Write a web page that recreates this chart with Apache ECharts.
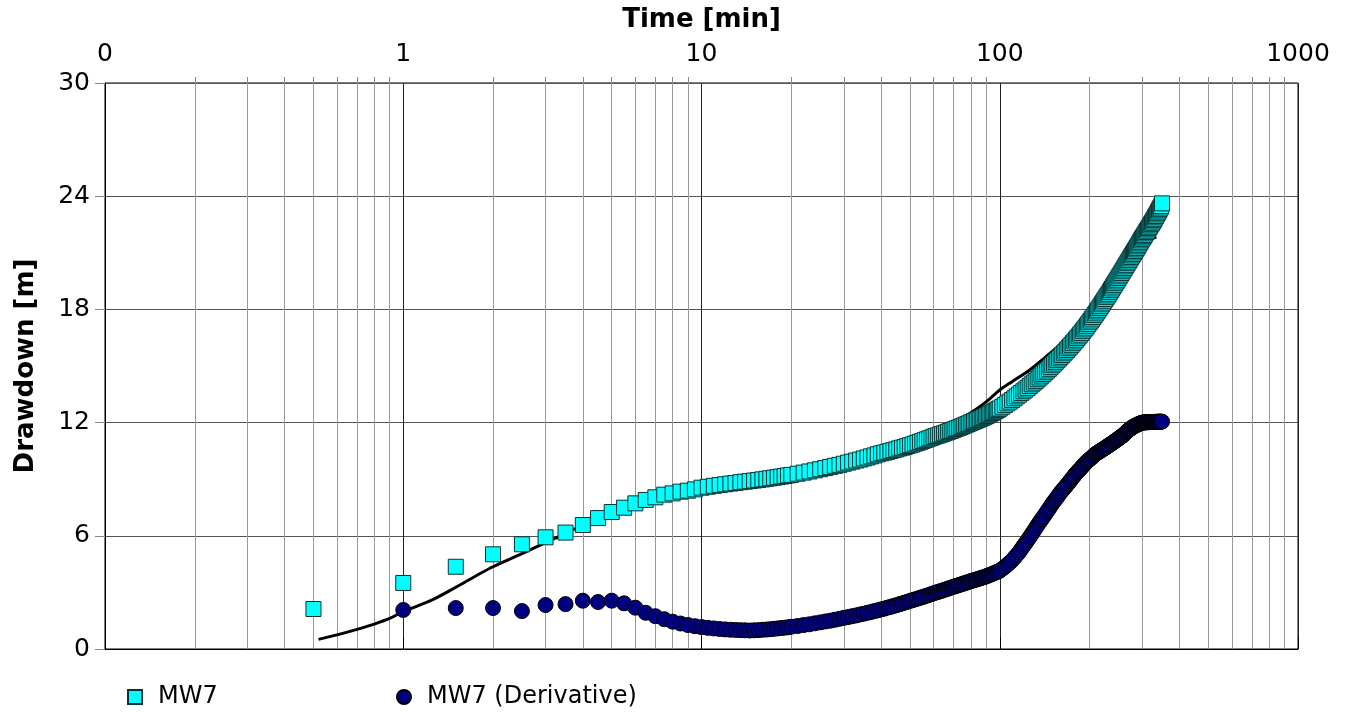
<!DOCTYPE html>
<html>
<head>
<meta charset="utf-8">
<script src="https://cdn.jsdelivr.net/npm/echarts@6/dist/echarts.min.js"></script>
<style>
html,body{margin:0;padding:0;background:#fff;}
#chart{width:1350px;height:713px;}
</style>
</head>
<body>
<div id="chart"></div>
<script>
// ---- data ----
const times = [
  0.5,1,1.5,2,2.5,3,3.5,4,4.5,5,5.5,6,6.5,7,7.5,8,8.5,9,9.5,10,
  10.5,11,11.5,12,12.5,13,13.5,14,14.5,15,15.5,16,16.5,17,17.5,18,18.5,19,19.5,20,
  21,22,23,24,25,26,27,28,29,30,31,32,33,34,35,36,37,38,39,40,
  41,42,43,44,45,46,47,48,49,50,51,52,53,54,55,56,57,58,59,60,
  61,62,63,64,65,66,67,68,69,70,71,72,73,74,75,76,77,78,79,80,
  81,82,83,84,85,86,87,88,89,90,91,92,93,94,95,96,97,98,99,100,
  102,104,106,108,110,112,114,116,118,120,122,124,126,128,130,132,134,136,138,140,
  142,144,146,148,150,152,154,156,158,160,162,164,166,168,170,172,174,176,178,180,
  182,184,186,188,190,192,194,196,198,200,202,204,206,208,210,212,214,216,218,220,
  222,224,226,228,230,232,234,236,238,240,242,244,246,248,250,252,254,256,258,260,
  262,264,266,268,270,272,274,276,278,280,282,284,286,288,290,292,294,296,298,300,
  302,304,306,308,310,312,314,316,318,320,322,324,326,328,330,332,334,336,338,340,
  342,344,346,348,350
];
const drawdown = [
  2.12,3.50,4.36,5.02,5.55,5.92,6.17,6.57,6.94,7.26,7.49,7.72,7.90,8.04,8.18,8.25,8.34,8.39,8.46,8.55,
  8.60,8.65,8.69,8.73,8.77,8.80,8.84,8.87,8.90,8.93,8.96,8.99,9.02,9.05,9.08,9.11,9.14,9.17,9.20,9.23,
  9.29,9.35,9.41,9.47,9.53,9.59,9.65,9.71,9.76,9.82,9.88,9.93,9.99,10.04,10.10,10.15,10.21,10.26,10.32,10.37,
  10.41,10.45,10.50,10.54,10.58,10.63,10.67,10.71,10.76,10.80,10.84,10.89,10.93,10.98,11.02,11.07,11.11,11.16,11.20,11.25,
  11.29,11.32,11.36,11.40,11.43,11.47,11.51,11.55,11.58,11.62,11.66,11.70,11.73,11.77,11.81,11.85,11.89,11.92,11.96,12.00,
  12.03,12.07,12.10,12.14,12.17,12.21,12.24,12.28,12.31,12.35,12.39,12.43,12.47,12.51,12.55,12.59,12.63,12.67,12.71,12.75,
  12.84,12.93,13.02,13.11,13.20,13.29,13.39,13.48,13.57,13.66,13.75,13.84,13.94,14.03,14.12,14.21,14.30,14.39,14.49,14.58,
  14.67,14.76,14.85,14.94,15.04,15.13,15.22,15.31,15.40,15.49,15.58,15.67,15.76,15.85,15.94,16.03,16.12,16.21,16.30,16.39,
  16.48,16.57,16.66,16.75,16.85,16.94,17.03,17.13,17.22,17.32,17.41,17.51,17.60,17.70,17.79,17.89,17.98,18.08,18.17,18.27,
  18.36,18.46,18.55,18.65,18.74,18.83,18.93,19.02,19.11,19.21,19.30,19.39,19.48,19.57,19.66,19.75,19.84,19.93,20.02,20.11,
  20.19,20.28,20.36,20.45,20.53,20.61,20.70,20.78,20.86,20.94,21.02,21.10,21.18,21.26,21.34,21.42,21.50,21.58,21.66,21.74,
  21.81,21.88,21.95,22.03,22.10,22.17,22.24,22.31,22.38,22.45,22.52,22.59,22.66,22.73,22.80,22.88,22.95,23.03,23.10,23.18,
  23.25,23.33,23.40,23.48,23.62
];
const derivative = [
  null,2.07,2.17,2.17,2.01,2.33,2.38,2.56,2.49,2.56,2.42,2.19,1.92,1.74,1.58,1.45,1.35,1.27,1.21,1.16,
  1.12,1.09,1.06,1.04,1.02,1.01,1.00,0.99,0.98,0.99,1.00,1.02,1.03,1.05,1.07,1.09,1.11,1.13,1.15,1.18,
  1.22,1.27,1.31,1.36,1.41,1.46,1.50,1.55,1.60,1.65,1.69,1.74,1.78,1.83,1.87,1.92,1.96,2.01,2.05,2.10,
  2.14,2.19,2.23,2.28,2.32,2.37,2.41,2.46,2.50,2.55,2.59,2.63,2.67,2.71,2.75,2.79,2.83,2.87,2.91,2.95,
  2.99,3.02,3.06,3.09,3.13,3.16,3.20,3.23,3.27,3.30,3.33,3.36,3.39,3.42,3.45,3.48,3.51,3.54,3.57,3.60,
  3.62,3.65,3.67,3.70,3.72,3.75,3.77,3.80,3.82,3.85,3.88,3.91,3.94,3.97,4.00,4.03,4.06,4.09,4.12,4.15,
  4.25,4.35,4.46,4.58,4.70,4.84,4.98,5.12,5.29,5.45,5.61,5.77,5.93,6.09,6.25,6.41,6.57,6.72,6.86,7.00,
  7.14,7.28,7.42,7.56,7.70,7.82,7.94,8.06,8.18,8.30,8.40,8.50,8.60,8.70,8.80,8.90,9.00,9.10,9.20,9.30,
  9.38,9.46,9.54,9.62,9.70,9.78,9.86,9.93,9.99,10.05,10.11,10.17,10.23,10.29,10.35,10.39,10.43,10.47,10.51,10.55,
  10.59,10.63,10.67,10.71,10.75,10.79,10.83,10.87,10.91,10.95,10.99,11.03,11.07,11.11,11.15,11.19,11.23,11.27,11.31,11.35,
  11.40,11.45,11.50,11.55,11.60,11.64,11.67,11.71,11.74,11.78,11.80,11.83,11.85,11.88,11.90,11.92,11.94,11.96,11.98,12.00,
  12.00,12.01,12.01,12.01,12.02,12.02,12.02,12.02,12.03,12.03,12.03,12.03,12.03,12.04,12.04,12.04,12.04,12.04,12.05,12.05,
  12.05,12.05,12.05,12.05,12.05
];
// fitted type curve (black line)
const fitTimes = [0.52,0.6,0.7,0.8,0.9,1.0,1.25,1.5,1.75,2.0,2.5,3.0,3.5,4,5,6,7,8,10,15,20,30,40,50,60,70,80,90,100,110,126,143,159,172,200,230,260,300,320,335];
const fitDrawdown = [0.51,0.75,1.04,1.32,1.62,1.98,2.60,3.27,3.87,4.36,5.05,5.64,6.12,6.58,7.25,7.75,8.05,8.27,8.60,9.05,9.38,9.98,10.55,11.0,11.45,11.98,12.52,13.1,13.73,14.17,14.79,15.5,16.1,16.6,17.55,18.9,20.1,21.4,21.7,21.85];

const xMajorLabels = {0.1:'0', 1:'1', 10:'10', 100:'100', 1000:'1000'};
const xMinorTicks = [0.2,0.3,0.4,0.5,0.6,0.7,0.8,0.9,2,3,4,5,6,7,8,9,20,30,40,50,60,70,80,90,200,300,400,500,600,700,800,900];

// ---- build series data ----
const mw7Data = times.map((t, i) => [t, drawdown[i]]);
const derivData = times.map((t, i) => [t, derivative[i]]).filter(p => p[1] !== null);
const fitData = fitTimes.map((t, i) => [t, fitDrawdown[i]]);

const FONT = 'DejaVu Sans';
const chart = echarts.init(document.getElementById('chart'), null, {renderer: 'canvas'});
chart.setOption({
  animation: false,
  backgroundColor: '#fff',
  textStyle: {fontFamily: FONT},
  grid: {left: 105, right: 52, top: 83, bottom: 64, show: true, borderColor: '#000', borderWidth: 1, backgroundColor: 'transparent'},
  legend: [
    {data: ['MW7'], left: 127, top: 685, padding: 0, itemWidth: 14, itemHeight: 14,
     textStyle: {fontFamily: FONT, fontSize: 24, color: '#000', padding: [0, 0, 0, 11]}, selectedMode: false},
    {data: ['MW7 (Derivative)'], left: 396, top: 685, padding: 0, itemWidth: 14, itemHeight: 14,
     textStyle: {fontFamily: FONT, fontSize: 24, color: '#000', padding: [0, 0, 0, 11]}, selectedMode: false}
  ],
  xAxis: [
    {
      type: 'log', logBase: 10, min: 0.1, max: 1000, position: 'top',
      name: 'Time [min]', nameLocation: 'middle', nameGap: 50,
      nameTextStyle: {fontFamily: FONT, fontSize: 26, fontWeight: 'bold', color: '#000'},
      axisLine: {show: true, lineStyle: {color: '#000', width: 1}},
      axisTick: {show: true, length: 12, lineStyle: {color: '#000'}},
      axisLabel: {margin: 16, fontFamily: FONT, fontSize: 25, color: '#000',
        formatter: v => (xMajorLabels[v] !== undefined ? xMajorLabels[v] : (v < 1 ? '0' : String(v)))},
      splitLine: {show: true, lineStyle: {color: '#222', width: 1}},
      minorTick: {show: false}, minorSplitLine: {show: false}
    },
    {
      type: 'log', logBase: 10, min: 0.1, max: 1000, position: 'top',
      axisLine: {show: false},
      axisTick: {show: true, length: 6, customValues: xMinorTicks, lineStyle: {color: '#888'}},
      axisLabel: {show: false},
      splitLine: {show: true, lineStyle: {color: '#999', width: 1}}
    }
  ],
  yAxis: {
    type: 'value', min: 0, max: 30, interval: 6,
    name: 'Drawdown [m]', nameLocation: 'middle', nameGap: 66,
    nameTextStyle: {fontFamily: FONT, fontSize: 26, fontWeight: 'bold', color: '#000'},
    axisLine: {show: true, lineStyle: {color: '#000'}},
    axisTick: {show: true, length: 10, lineStyle: {color: '#888'}},
    axisLabel: {margin: 15, fontFamily: FONT, fontSize: 25, color: '#000'},
    splitLine: {show: true, lineStyle: {color: '#555', width: 1}}
  },
  series: [
    {
      name: 'fit', type: 'line', xAxisIndex: 0, data: fitData, showSymbol: false, symbol: 'none',
      smooth: 0.3, lineStyle: {color: '#000', width: 3}, z: 2, silent: true
    },
    {
      name: 'MW7', type: 'scatter', xAxisIndex: 0, data: mw7Data, symbol: 'rect', symbolSize: 15,
      itemStyle: {color: '#00ffff', borderColor: '#0f3232', borderWidth: 1, opacity: 1}, z: 3
    },
    {
      name: 'MW7 (Derivative)', type: 'scatter', xAxisIndex: 0, data: derivData, symbol: 'circle', symbolSize: 15,
      itemStyle: {color: '#000080', borderColor: '#000000', borderWidth: 1, opacity: 1}, z: 4
    }
  ]
});
</script>
</body>
</html>
